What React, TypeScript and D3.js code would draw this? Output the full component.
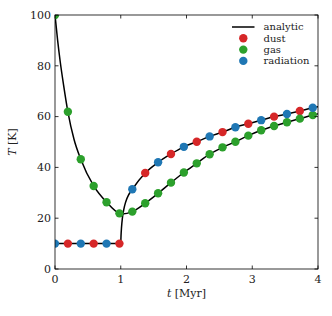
import React from 'react';
import * as d3 from 'd3';

// simulation output times (Myr)
const gasTimes = [0, 0.196, 0.392, 0.588, 0.784, 0.98, 1.176, 1.372, 1.568, 1.764, 1.96, 2.156, 2.352, 2.548, 2.744, 2.94, 3.136, 3.332, 3.528, 3.724, 3.92];
const gasT = [100, 61.9, 43.2, 32.7, 26.3, 21.9, 22.6, 25.9, 29.8, 34.0, 38.0, 41.6, 45.2, 47.9, 50.1, 52.5, 54.6, 56.3, 57.8, 59.2, 60.6];

const dustTimes = [0.196, 0.588, 0.98, 1.372, 1.764, 2.156, 2.548, 2.94, 3.332, 3.724];
const dustT = [10, 10, 10, 37.8, 45.3, 50.1, 53.9, 57.2, 60.0, 62.2];

const radTimes = [0, 0.392, 0.784, 1.176, 1.568, 1.96, 2.352, 2.744, 3.136, 3.528, 3.92];
const radT = [10, 10, 10, 31.4, 42.0, 48.1, 52.2, 55.8, 58.6, 61.0, 63.5];

// analytic curves
const gasAnaTimes = [0, 0.04, 0.08, 0.13, 0.196, 0.29, 0.392, 0.588, 0.784, 0.98, 1.02, 1.176, 1.372, 1.568, 1.764, 1.96, 2.156, 2.352, 2.548, 2.744, 2.94, 3.136, 3.332, 3.528, 3.724, 3.92, 4.0];
const gasAnaT = [100, 90, 81.5, 72.5, 61.9, 51, 43.2, 32.7, 26.3, 21.9, 21.7, 22.6, 25.9, 29.8, 34.0, 38.0, 41.6, 45.2, 47.9, 50.1, 52.5, 54.6, 56.3, 57.8, 59.2, 60.6, 61.1];

const dustAnaTimes = [0, 0.98, 1.0, 1.004, 1.012, 1.025, 1.045, 1.075, 1.12, 1.176, 1.372, 1.568, 1.764, 1.96, 2.156, 2.352, 2.548, 2.744, 2.94, 3.136, 3.332, 3.528, 3.724, 3.92, 4.0];
const dustAnaT = [10, 10, 10, 13, 16.5, 20, 23.3, 26.4, 29.2, 31.4, 37.8, 42.0, 45.3, 48.1, 50.1, 52.2, 53.9, 55.8, 57.2, 58.6, 60.0, 61.0, 62.2, 63.5, 63.9];

const xTicks = [0, 1, 2, 3, 4];
const yTicks = [0, 20, 40, 60, 80, 100];

const legendItems = [
  { label: 'analytic', kind: 'line', color: '#000000' },
  { label: 'dust', kind: 'dot', color: '#d62728' },
  { label: 'gas', kind: 'dot', color: '#2ca02c' },
  { label: 'radiation', kind: 'dot', color: '#1f77b4' },
];

const font = '"DejaVu Serif", serif';

export default function App() {
  const width = 332;
  const height = 316;
  const margin = { top: 15, right: 14, bottom: 47, left: 55 };
  const innerW = width - margin.left - margin.right;
  const innerH = height - margin.top - margin.bottom;

  const x = d3.scaleLinear().domain([0, 4]).range([0, innerW]);
  const y = d3.scaleLinear().domain([0, 100]).range([innerH, 0]);

  const line = d3.line<[number, number]>()
    .x(d => x(d[0]))
    .y(d => y(d[1]))
    .curve(d3.curveMonotoneX);

  const gasLine = line(gasAnaTimes.map((t, i) => [t, gasAnaT[i]]));
  const dustLine = line(dustAnaTimes.map((t, i) => [t, dustAnaT[i]]));

  const tickLen = 3.5;
  const r = 4.2;

  return (
    <svg width={width} height={height} style={{ position: 'absolute', left: 0, top: 0 }} fontFamily={font}>
      <rect width={width} height={height} fill="#fff" />
      <defs>
        <clipPath id="plot">
          <rect x={0} y={0} width={innerW} height={innerH} />
        </clipPath>
      </defs>
      <g transform={`translate(${margin.left},${margin.top})`}>
        <g clipPath="url(#plot)">
          <path d={gasLine ?? ''} fill="none" stroke="#000" strokeWidth={1.5} />
          <path d={dustLine ?? ''} fill="none" stroke="#000" strokeWidth={1.5} />
          {dustTimes.map((t, i) => (
            <circle key={'d' + i} cx={x(t)} cy={y(dustT[i])} r={r} fill="#d62728" />
          ))}
          {gasTimes.map((t, i) => (
            <circle key={'g' + i} cx={x(t)} cy={y(gasT[i])} r={r} fill="#2ca02c" />
          ))}
          {radTimes.map((t, i) => (
            <circle key={'r' + i} cx={x(t)} cy={y(radT[i])} r={r} fill="#1f77b4" />
          ))}
        </g>

        {/* frame */}
        <rect x={0} y={0} width={innerW} height={innerH} fill="none" stroke="#000" strokeWidth={0.8} />

        {/* x ticks */}
        {xTicks.map(t => (
          <g key={'xt' + t} transform={`translate(${x(t)},0)`}>
            <line y1={innerH} y2={innerH - tickLen} stroke="#000" strokeWidth={0.8} />
            <line y1={0} y2={tickLen} stroke="#000" strokeWidth={0.8} />
            <text y={innerH + 14} textAnchor="middle" fontSize={11} fill="#222">{t}</text>
          </g>
        ))}

        {/* y ticks */}
        {yTicks.map(v => (
          <g key={'yt' + v} transform={`translate(0,${y(v)})`}>
            <line x1={0} x2={tickLen} stroke="#000" strokeWidth={0.8} />
            <line x1={innerW} x2={innerW - tickLen} stroke="#000" strokeWidth={0.8} />
            <text x={-4} dy="0.35em" textAnchor="end" fontSize={11} fill="#222">{v}</text>
          </g>
        ))}

        {/* axis labels */}
        <text x={innerW / 2} y={innerH + 28} textAnchor="middle" fontSize={11} fill="#222">
          <tspan fontStyle="italic">t</tspan> [Myr]
        </text>
        <text transform={`translate(${-39},${innerH / 2}) rotate(-90)`} textAnchor="middle" fontSize={11} fill="#222">
          <tspan fontStyle="italic">T</tspan> [K]
        </text>

        {/* legend */}
        <g transform={`translate(${innerW - 86},12)`}>
          {legendItems.map((it, i) => (
            <g key={it.label} transform={`translate(0,${i * 11.3})`}>
              {it.kind === 'line'
                ? <line x1={0} x2={22.5} stroke="#000" strokeWidth={1.5} />
                : <circle cx={11.3} cy={0} r={r} fill={it.color} />}
              <text x={31.5} dy="0.32em" fontSize={10} fill="#222">{it.label}</text>
            </g>
          ))}
        </g>
      </g>
    </svg>
  );
}
